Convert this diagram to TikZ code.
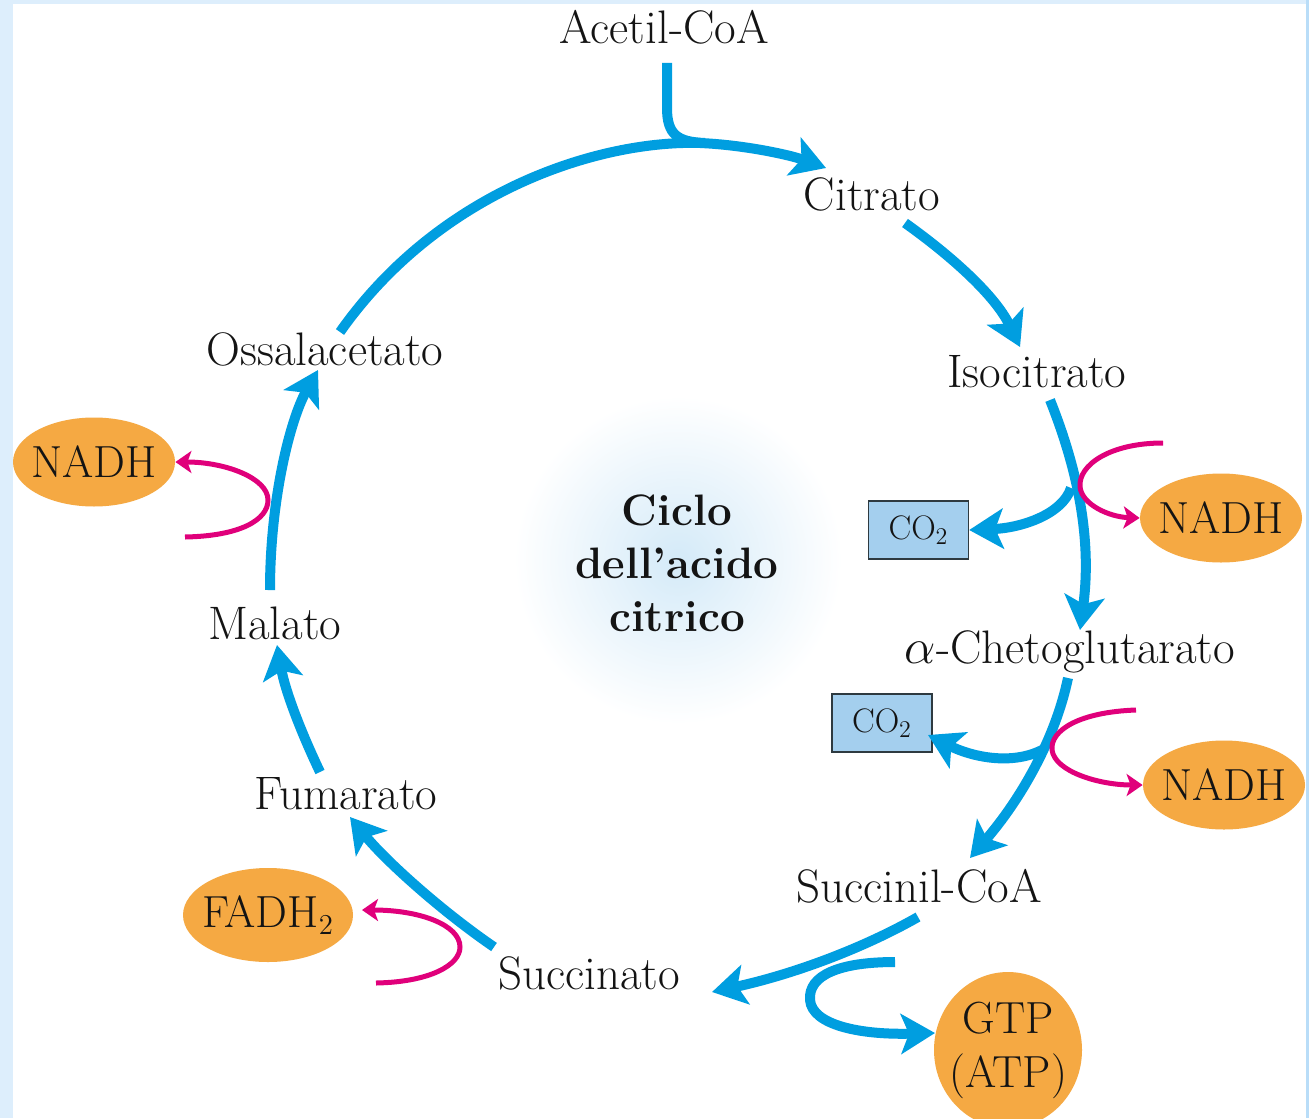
\documentclass[tikz,border=0pt]{standalone}
\usetikzlibrary{arrows.meta,shapes.geometric}
\definecolor{cycblue}{RGB}{0,158,224}
\definecolor{redmag}{RGB}{224,0,123}
\definecolor{orangefill}{RGB}{245,169,67}
\definecolor{boxfill}{RGB}{164,207,238}
\definecolor{boxline}{RGB}{46,58,64}
\definecolor{txt}{RGB}{20,20,20}
\definecolor{glowc}{RGB}{212,234,248}
\definecolor{frameblue}{RGB}{221,238,252}
\definecolor{rightblue}{RGB}{185,221,248}
\begin{document}
\begin{tikzpicture}[x=0.5pt,y=-0.5pt,
  lbl/.style={font=\fontsize{23.5}{28}\selectfont, text=txt, inner sep=0pt, anchor=base},
  blob/.style={ellipse, fill=orangefill, font=\fontsize{22.5}{27}\selectfont, text=txt, inner sep=0pt},
  cobox/.style={draw=boxline, line width=0.7pt, fill=boxfill, font=\fontsize{17}{20}\selectfont, text=txt, inner sep=0pt, minimum width=50pt, minimum height=29pt},
  flow/.style={draw=cycblue, line width=5pt, -{Stealth[length=17pt,width=20pt,inset=4pt]}},
  flowplain/.style={draw=cycblue, line width=5pt},
  redox/.style={draw=redmag, line width=2.5pt, -{Stealth[length=8pt,width=11pt,inset=2pt]}}
]
\useasboundingbox (0,0) rectangle (1309,1118);
% frame and background
\fill[frameblue] (0,0) rectangle (1309,1118);
\fill[rightblue] (1306,0) rectangle (1309,1118);
\fill[white] (13,4) rectangle (1306,1118);
% central glow
\shade[inner color=glowc, outer color=white] (678,560) circle [radius=82pt];

% labels
\node[lbl] (acetil) at (664,44) {Acetil-CoA};
\node[lbl] (citrato) at (872,211) {Citrato};
\node[lbl] (isocitrato) at (1037,387) {Isocitrato};
\node[lbl] (cheto) at (1070,663) {$\alpha$-Chetoglutarato};
\node[lbl] (succoa) at (919,902) {Succinil-CoA};
\node[lbl] (succinato) at (589,989) {Succinato};
\node[lbl] (fumarato) at (346,809) {Fumarato};
\node[lbl] (malato) at (275,639) {Malato};
\node[lbl] (ossal) at (325,365) {Ossalacetato};
\node[font=\bfseries\fontsize{22}{26.5}\selectfont, text=txt, align=center, inner sep=0pt] (ciclo) at (677,563) {Ciclo\\dell’acido\\citrico};

% products
\node[blob, minimum width=81pt, minimum height=44.5pt] (nadhL) at (94,462) {\makebox[0pt]{NADH}};
\node[blob, minimum width=81pt, minimum height=44.5pt] (nadh1) at (1221,518) {\makebox[0pt]{NADH}};
\node[blob, minimum width=81pt, minimum height=44.5pt] (nadh2) at (1224,785) {\makebox[0pt]{NADH}};
\node[blob, minimum width=85pt, minimum height=47pt] (fadh) at (268,915) {\makebox[0pt]{FADH$_2$}};
\node[blob, minimum width=74pt, minimum height=78pt] (gtp) at (1008,1050) {\makebox[0pt]{\begin{tabular}{@{}c@{}}GTP\\(ATP)\end{tabular}}};
\node[cobox] (co2a) at (918.5,530) {CO$_2$};
\node[cobox] (co2b) at (882,723) {CO$_2$};

% coordinates
\coordinate (acS) at (667,63);
\coordinate (acJ) at (705,143);
\coordinate (topS) at (340,332);
\coordinate (topM) at (700,143);
\coordinate (topE) at (826,168);
\coordinate (ciS) at (905,223);
\coordinate (ciE) at (1020,347);
\coordinate (isS) at (1050,400);
\coordinate (isE) at (1080,630);
\coordinate (isJ) at (1071,488);
\coordinate (chS) at (1068,678);
\coordinate (chE) at (970,858);
\coordinate (chJ) at (1042,750);
\coordinate (co2bT) at (928,735);
\coordinate (scS) at (918,917);
\coordinate (scE) at (712,992);
\coordinate (gtS) at (895,962);
\coordinate (gtT) at (935,1033);
\coordinate (suS) at (494,947);
\coordinate (suE) at (350,817);
\coordinate (fuS) at (320,772);
\coordinate (fuE) at (277,645);
\coordinate (maS) at (270,590);
\coordinate (maE) at (318,370);
\coordinate (r1S) at (1163,443);
\coordinate (r2S) at (1136,710);
\coordinate (rLS) at (185,537);
\coordinate (rFS) at (376,983);
\coordinate (rFT) at (362,910);

% main cycle
\draw[flowplain] (acS) -- (667,108) .. controls (667,135) and (678,142) .. (acJ);
\draw[flow] (topS) .. controls (440,190) and (600,140) .. (topM) .. controls (745,145) and (790,155) .. (topE);
\draw[flow] (ciS) .. controls (950,255) and (995,295) .. (ciE);
\draw[flow] (isS) .. controls (1078,470) and (1092,540) .. (isE);
\draw[flow] (isJ) .. controls (1062,515) and (1020,528) .. (co2a.east);
\draw[flow] (chS) .. controls (1055,740) and (1020,800) .. (chE);
\draw[flow] (chJ) .. controls (1010,766) and (970,756) .. (co2bT);
\draw[flow] (scS) .. controls (860,950) and (790,975) .. (scE);
\draw[flow] (gtS) .. controls (840,962) and (808,975) .. (810,1000) .. controls (812,1025) and (860,1035) .. (gtT);
\draw[flow] (suS) .. controls (440,910) and (385,860) .. (suE);
\draw[flow] (fuS) .. controls (300,730) and (285,690) .. (fuE);
\draw[flow] (maS) .. controls (270,500) and (290,420) .. (maE);

% redox arrows
\draw[redox] (r1S) .. controls (1110,443) and (1078,465) .. (1080,487) .. controls (1082,505) and (1110,517) .. (nadh1.west);
\draw[redox] (r2S) .. controls (1080,712) and (1050,730) .. (1052,750) .. controls (1055,772) and (1100,785) .. (nadh2.west);
\draw[redox] (rLS) .. controls (240,536) and (268,520) .. (268,500) .. controls (268,478) and (225,462) .. (nadhL.east);
\draw[redox] (rFS) .. controls (430,982) and (460,965) .. (460,947) .. controls (460,925) and (420,910) .. (rFT);
\end{tikzpicture}
\end{document}
